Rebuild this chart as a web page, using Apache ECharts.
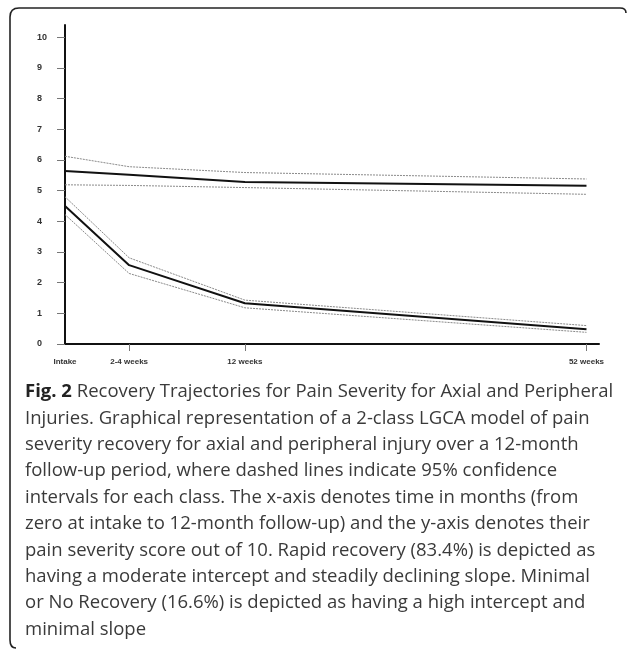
<!DOCTYPE html>
<html>
<head>
<meta charset="utf-8">
<script src="https://cdn.jsdelivr.net/npm/echarts@6/dist/echarts.min.js"></script>
<style>
  html, body { margin: 0; padding: 0; background: #fff; }
  #chart { width: 627px; height: 651px; }
</style>
</head>
<body>
<div id="chart"></div>
<script>
// time points, placed on the axis (axis runs 0..100)
const timeLabels = ["Intake", "2-4 weeks", "12 weeks", "52 weeks"];
const timePos = [0, 12.3, 34.5, 100];
const yTicks = [0, 1, 2, 3, 4, 5, 6, 7, 8, 9, 10];

// Minimal or No Recovery (16.6%)
const minimalMean = [5.64, 5.52, 5.28, 5.16];
const minimalUpper = [6.12, 5.78, 5.59, 5.38];
const minimalLower = [5.19, 5.17, 5.10, 4.88];

// Rapid recovery (83.4%)
const rapidMean = [4.50, 2.57, 1.33, 0.48];
const rapidUpper = [4.80, 2.81, 1.43, 0.60];
const rapidLower = [4.22, 2.30, 1.18, 0.38];

const captionLines = [
  "{b|Fig. 2} Recovery Trajectories for Pain Severity for Axial and Peripheral",
  "Injuries. Graphical representation of a 2-class LGCA model of pain",
  "severity recovery for axial and peripheral injury over a 12-month",
  "follow-up period, where dashed lines indicate 95% confidence",
  "intervals for each class. The x-axis denotes time in months (from",
  "zero at intake to 12-month follow-up) and the y-axis denotes their",
  "pain severity score out of 10. Rapid recovery (83.4%) is depicted as",
  "having a moderate intercept and steadily declining slope. Minimal",
  "or No Recovery (16.6%) is depicted as having a high intercept and",
  "minimal slope"
];

function pairs(vals) {
  return vals.map((v, i) => [timePos[i], v]);
}

function meanLine(name, vals) {
  return {
    name: name,
    type: "line",
    data: pairs(vals),
    symbol: "none",
    lineStyle: { color: "#111", width: 2 },
    z: 3
  };
}

function ciLine(name, vals) {
  return {
    name: name,
    type: "line",
    data: pairs(vals),
    symbol: "none",
    lineStyle: { color: "#8a8a8a", width: 1, type: [2, 1] },
    z: 2
  };
}

const chart = echarts.init(document.getElementById("chart"), null, { renderer: "canvas" });

const caption = captionLines.map((line, i) => ({
  type: "text",
  left: 25,
  top: 392 + i * 26.4 - 9.5,
  style: {
    text: line,
    font: "18.5px 'Open Sans'",
    fill: "#3a3a3a",
    rich: {
      b: { font: "bold 18.5px 'Open Sans'", fill: "#222" }
    }
  }
}));

const frameStyle = { stroke: "#222", lineWidth: 1.6, fill: null };
const frame = [
  { type: "polyline", shape: { points: [[19, 8], [620, 8]] }, style: frameStyle },
  { type: "polyline", shape: { points: [[10, 17], [10, 640]] }, style: frameStyle },
  { type: "bezierCurve", shape: { x1: 10, y1: 17, cpx1: 10, cpy1: 8, x2: 19, y2: 8 }, style: frameStyle },
  { type: "bezierCurve", shape: { x1: 10, y1: 640, cpx1: 10, cpy1: 648, x2: 16, y2: 648 }, style: frameStyle },
  { type: "bezierCurve", shape: { x1: 620, y1: 8, cpx1: 626, cpy1: 8, x2: 626, y2: 13 }, style: frameStyle }
];

chart.setOption({
  animation: false,
  backgroundColor: "#fff",
  grid: { left: 65, right: 28, top: 25, bottom: 307 },
  xAxis: {
    type: "value",
    min: 0,
    max: 102.4,
    splitLine: { show: false },
    axisLine: { show: true, onZero: false, lineStyle: { color: "#111", width: 2 } },
    axisTick: {
      show: true,
      length: 7,
      customValues: timePos.slice(1),
      lineStyle: { color: "#777", width: 1 }
    },
    axisLabel: {
      customValues: timePos,
      margin: 14,
      fontFamily: "Liberation Sans",
      fontWeight: "bold",
      fontSize: 8,
      color: "#333",
      formatter: v => timeLabels[timePos.indexOf(v)] || ""
    }
  },
  yAxis: {
    type: "value",
    min: 0,
    max: 10.4,
    splitLine: { show: false },
    axisLine: { show: true, lineStyle: { color: "#111", width: 2 } },
    axisTick: {
      show: true,
      length: 8,
      customValues: yTicks,
      lineStyle: { color: "#777", width: 1 }
    },
    axisLabel: {
      customValues: yTicks,
      align: "left",
      margin: 28,
      fontFamily: "Liberation Sans",
      fontWeight: "bold",
      fontSize: 9,
      color: "#333"
    }
  },
  series: [
    ciLine("Minimal upper", minimalUpper),
    meanLine("Minimal or No Recovery", minimalMean),
    ciLine("Minimal lower", minimalLower),
    ciLine("Rapid upper", rapidUpper),
    meanLine("Rapid recovery", rapidMean),
    ciLine("Rapid lower", rapidLower)
  ],
  graphic: frame.concat(caption)
});
</script>
</body>
</html>
